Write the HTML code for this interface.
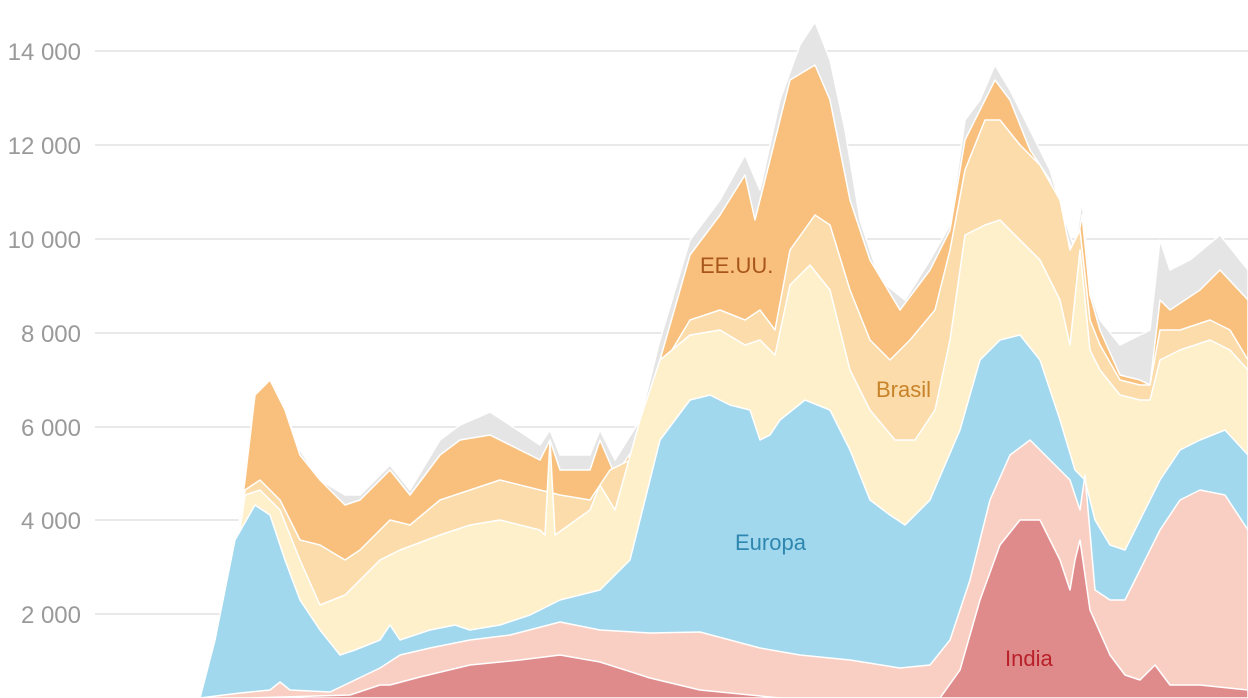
<!DOCTYPE html>
<html><head><meta charset="utf-8"><style>
html,body{margin:0;padding:0;background:#fff;}
svg{display:block;}
text{font-family:"Liberation Sans",sans-serif;}
</style></head><body>
<svg width="1248" height="698" viewBox="0 0 1248 698" xmlns="http://www.w3.org/2000/svg">
<g stroke="#e2e2e2" stroke-width="1.5">
<line x1="95" y1="51" x2="1248" y2="51"/><line x1="95" y1="145" x2="1248" y2="145"/>
<line x1="95" y1="239" x2="1248" y2="239"/><line x1="95" y1="333" x2="1248" y2="333"/>
<line x1="95" y1="427" x2="1248" y2="427"/><line x1="95" y1="520" x2="1248" y2="520"/>
<line x1="95" y1="614" x2="1248" y2="614"/>
</g>
<g fill="#9a9a9a" font-size="24" text-anchor="end">
<text x="81" y="60">14 000</text><text x="81" y="154">12 000</text><text x="81" y="248">10 000</text>
<text x="81" y="342">8 000</text><text x="81" y="436">6 000</text><text x="81" y="529">4 000</text>
<text x="81" y="623">2 000</text>
</g>
<g stroke="#fff" stroke-width="1.5" stroke-linejoin="round">
<polygon fill="#e5e5e5" points="228,698 230,590 245,480 255,400 270,380 285,410 300,450 320,480 345,495 360,495 390,465 410,490 440,440 460,425 490,412 510,425 540,445 550,430 560,455 590,455 600,430 615,460 640,420 660,340 690,240 720,200 745,155 760,190 780,100 800,45 815,22 830,60 845,130 860,220 880,280 905,300 930,260 950,225 965,120 980,100 995,65 1010,90 1030,130 1050,170 1065,220 1075,250 1082,200 1090,290 1100,320 1120,345 1140,335 1150,330 1160,240 1170,270 1190,260 1220,235 1248,270 1248,698"/>
<polygon fill="#f8c07c" points="228,698 230,590 245,480 255,395 270,380 285,410 300,455 320,480 345,505 360,500 390,470 410,495 440,455 460,440 490,435 510,445 540,460 550,440 560,470 590,470 600,440 615,475 640,440 660,360 690,255 720,215 745,175 755,220 770,160 790,80 815,65 830,100 850,200 870,260 900,310 930,270 950,230 965,140 980,110 995,80 1010,100 1030,150 1050,180 1065,230 1075,260 1082,215 1090,295 1100,330 1120,375 1140,380 1150,385 1160,300 1170,310 1200,290 1220,270 1248,300 1248,698"/>
<polygon fill="#fbdcaa" points="228,698 230,600 245,490 260,480 280,500 300,540 320,545 345,560 360,550 390,520 410,525 440,500 470,490 500,480 540,490 560,495 590,500 610,470 630,460 660,370 690,320 720,310 745,320 760,310 775,330 790,250 815,215 830,225 850,290 870,340 890,360 910,340 935,310 950,250 965,170 985,120 1000,120 1020,145 1040,165 1060,200 1070,250 1080,230 1090,320 1100,345 1120,380 1140,385 1150,385 1160,330 1180,330 1210,320 1230,330 1248,360 1248,698"/>
<polygon fill="#fdf0cb" points="228,698 230,600 245,495 260,490 280,510 300,560 320,605 345,595 360,580 380,560 400,550 440,535 470,525 500,520 540,530 545,535 550,440 555,535 590,510 600,485 615,510 640,420 660,360 690,335 720,330 745,345 760,340 775,355 790,285 810,265 830,290 850,370 870,410 895,440 915,440 935,410 950,340 965,235 985,225 1000,220 1020,240 1040,260 1060,300 1070,345 1080,250 1090,350 1100,370 1120,395 1140,400 1150,400 1160,360 1180,350 1210,340 1230,350 1248,370 1248,698"/>
<polygon fill="#a1d8ee" points="200,698 215,640 235,540 255,505 270,515 285,560 300,600 320,630 340,655 355,650 380,640 390,625 400,640 430,630 455,625 470,630 500,625 530,615 560,600 600,590 630,560 660,440 690,400 710,395 730,405 750,410 760,440 770,435 780,420 805,400 830,410 850,450 870,500 890,515 905,525 930,500 960,430 980,360 1000,340 1020,335 1040,360 1060,420 1075,470 1085,480 1095,520 1110,545 1125,550 1140,520 1160,480 1180,450 1200,440 1225,430 1248,455 1248,698"/>
<polygon fill="#f9cfc3" points="200,698 240,693 270,690 280,682 290,690 330,692 380,668 400,655 430,648 470,640 510,635 560,622 600,630 650,633 700,632 760,648 800,655 850,660 900,668 930,665 950,640 970,580 990,500 1010,455 1030,440 1045,455 1060,470 1070,480 1080,510 1085,475 1095,590 1110,600 1125,600 1140,570 1160,530 1180,500 1200,490 1225,495 1248,530 1248,698"/>
<polygon fill="#e08b8b" points="250,698 350,695 380,685 390,685 420,677 470,665 520,660 560,655 600,662 650,678 700,690 780,698 940,698 960,670 980,600 1000,545 1020,520 1040,520 1060,560 1070,590 1075,560 1080,540 1090,610 1110,655 1125,675 1140,680 1155,665 1170,685 1200,685 1248,690 1248,698"/>
</g>
<g font-size="22">
<text x="700" y="273" fill="#a8561a">EE.UU.</text>
<text x="876" y="397" fill="#c8832a">Brasil</text>
<text x="735" y="550" fill="#2f87b0">Europa</text>
<text x="1005" y="666" fill="#b8202a">India</text>
</g>
</svg>
</body></html>
